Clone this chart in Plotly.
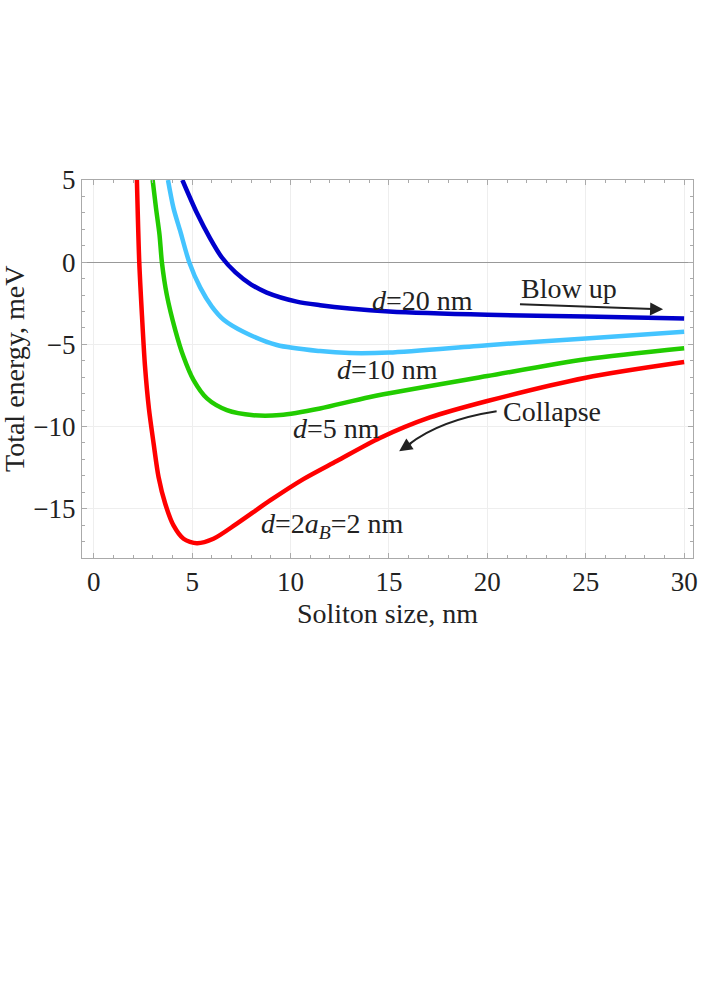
import plotly.graph_objects as go

# curves (soliton size in nm, total energy in meV)
x_2nm = [2.19, 2.31, 2.45, 2.6, 2.8, 3.04, 3.29, 3.63, 4.05, 4.56, 5.24, 6.08, 7.27, 8.96, 10.65, 12.35, 14.54, 17.08, 20, 25, 30]
y_2nm = [5, 0, -3.3, -6.3, -8.9, -11.04, -13.07, -14.7, -16.02, -16.83, -17.1, -16.83, -15.91, -14.5, -13.2, -12.1, -10.7, -9.45, -8.45, -7.03, -6.08]

x_5nm = [2.99, 3.16, 3.34, 3.46, 3.71, 4.14, 4.56, 5.07, 5.75, 6.76, 8.11, 9.47, 11.5, 14.04, 20, 25, 30]
y_5nm = [5, 3.29, 1.66, 0, -1.99, -4.13, -5.76, -7.18, -8.29, -9.0, -9.31, -9.3, -8.9, -8.2, -6.93, -5.91, -5.24]

x_10nm = [3.77, 4.05, 4.39, 4.85, 5.41, 6.0, 6.6, 7.6, 9.3, 11.5, 13.0, 15, 20, 25, 30]
y_10nm = [5, 3.29, 1.9, 0, -1.55, -2.7, -3.5, -4.23, -5.04, -5.41, -5.53, -5.5, -5.05, -4.64, -4.23]

x_20nm = [4.5, 5.24, 5.91, 6.5, 7.2, 8.0, 8.79, 10.31, 11.5, 13.0, 15, 20, 25, 30]
y_20nm = [5, 2.99, 1.45, 0.3, -0.62, -1.36, -1.85, -2.4, -2.62, -2.82, -3.0, -3.2, -3.3, -3.43]

FONT = "Liberation Serif"
TXT = "#222222"

fig = go.Figure()
for xs, ys, col in [(x_2nm, y_2nm, "#ff0000"), (x_5nm, y_5nm, "#22cc00"),
                    (x_10nm, y_10nm, "#44c4ff"), (x_20nm, y_20nm, "#0000cc")]:
    fig.add_trace(go.Scatter(x=xs, y=ys, mode="lines",
                             line=dict(color=col, width=4.5, shape="spline", smoothing=0.8),
                             showlegend=False, hoverinfo="skip"))

# curve labels
labels = [
    (16.7, -2.35, "<i>d</i>=20 nm"),
    (14.9, -6.5, "<i>d</i>=10 nm"),
    (12.35, -10.1, "<i>d</i>=5 nm"),
    (12.13, -16.0, "<i>d</i>=2<i>a<sub>B</sub></i>=2 nm"),
    (24.15, -1.6, "Blow up"),
    (23.3, -9.07, "Collapse"),
]
for lx, ly, t in labels:
    fig.add_annotation(x=lx, y=ly, text=t, showarrow=False,
                       font=dict(family=FONT, size=28, color=TXT))

# "Blow up" arrow
fig.add_annotation(x=28.93, y=-2.87, ax=21.58, ay=-2.56, axref="x", ayref="y",
                   text="", showarrow=True, arrowhead=2, arrowsize=1.3,
                   arrowwidth=2, arrowcolor=TXT)

# "Collapse" curved arrow: bezier body + arrowhead
fig.add_shape(type="path", path="M 20.47,-9.07 Q 17.6,-9.6 16.0,-11.1",
              line=dict(color=TXT, width=2))
fig.add_annotation(x=15.52, y=-11.5, ax=16.2, ay=-10.95, axref="x", ayref="y",
                   text="", showarrow=True, arrowhead=2, arrowsize=1.3,
                   arrowwidth=2, arrowcolor=TXT)

# y title placed by hand, close to the page edge like the reference
fig.add_annotation(xref="paper", yref="paper", x=0, y=0.5, xshift=-68,
                   xanchor="center", yanchor="middle",
                   text="Total energy, meV", textangle=-90, showarrow=False,
                   font=dict(family=FONT, size=28, color=TXT))

axis_common = dict(
    showline=True, linecolor="#aaaaaa", linewidth=1, mirror="allticks",
    ticks="inside", ticklen=5, tickcolor="#aaaaaa",
    showgrid=True, gridcolor="#eeeeee", gridwidth=1,
    minor=dict(ticks="inside", ticklen=3, tickcolor="#aaaaaa", dtick=1, showgrid=False),
    tickfont=dict(family=FONT, size=27, color=TXT),
    automargin=False,
)

fig.update_xaxes(range=[-0.6, 30.45], tickvals=[0, 5, 10, 15, 20, 25, 30],
                 zeroline=False,
                 title=dict(text="Soliton size, nm", font=dict(family=FONT, size=28, color=TXT), standoff=6),
                 **axis_common)
fig.update_yaxes(range=[-18.0, 5.0], tickvals=[-15, -10, -5, 0, 5],
                 zeroline=True, zerolinecolor="#999999", zerolinewidth=1,
                 **axis_common)

fig.update_layout(
    width=706, height=1001,
    margin=dict(l=82, r=13, t=180, b=443),
    plot_bgcolor="white", paper_bgcolor="white",
    font=dict(family=FONT, color=TXT),
)

# drop the browser's default 8px body margin so the figure fills the window
fig.write_html("out.html", config={"displayModeBar": False},
               post_script="document.body.style.margin='0';")
